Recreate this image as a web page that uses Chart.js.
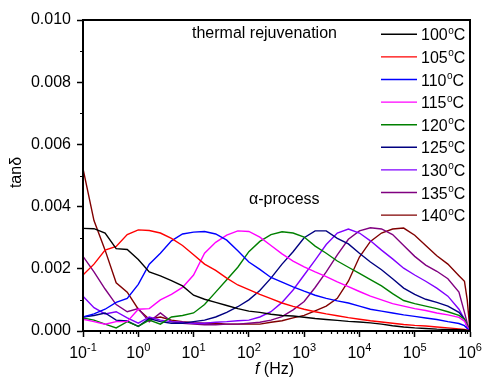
<!DOCTYPE html>
<html>
<head>
<meta charset="utf-8">
<script src="https://cdn.jsdelivr.net/npm/chart.js@4"></script>
<style>
  body { margin: 0; background: #fff; overflow: hidden; }
</style>
</head>
<body>
<canvas id="chart" width="483" height="378"></canvas>
<script>
// frequency (Hz) and tan delta values (x 10^-3)
const freqs = [0.1, 0.158, 0.251, 0.398, 0.631, 1, 1.58, 2.51, 3.98, 6.31,
    10, 15.8, 25.1, 39.8, 63.1, 100, 158, 251, 398, 631,
    1000, 1580, 2510, 3980, 6310, 10000, 15800, 25100, 39800, 63100,
    100000, 158000, 251000, 398000, 631000, 794000, 891000, 1000000];

const temps = ['100', '105', '110', '115', '120', '125', '130', '135', '140'];
const colors = ['#000000', '#ff0000', '#0000ff', '#ff00ff', '#008000', '#000080', '#8000ff', '#800080', '#800000'];

const t100 = [3.30, 3.29, 3.15, 2.65, 2.62, 2.30, 1.90, 1.77, 1.62, 1.45, 1.15, 1.02, 0.92, 0.82, 0.72, 0.64, 0.60, 0.54, 0.50, 0.48, 0.44, 0.40, 0.37, 0.34, 0.31, 0.29, 0.26, 0.22, 0.17, 0.13, 0.10, 0.08, 0.06, 0.05, 0.04, 0.03, 0.02, 0];
const t105 = [1.80, 2.15, 2.60, 2.72, 3.10, 3.25, 3.23, 3.15, 2.98, 2.75, 2.45, 2.15, 1.95, 1.70, 1.48, 1.33, 1.18, 1.04, 0.90, 0.79, 0.70, 0.62, 0.55, 0.49, 0.43, 0.38, 0.33, 0.29, 0.25, 0.21, 0.18, 0.16, 0.13, 0.10, 0.07, 0.05, 0.03, 0];
const t110 = [0.45, 0.55, 0.70, 0.92, 1.05, 1.50, 2.15, 2.50, 2.90, 3.12, 3.18, 3.20, 3.12, 2.92, 2.58, 2.22, 1.98, 1.72, 1.57, 1.42, 1.28, 1.15, 1.05, 0.97, 0.90, 0.80, 0.70, 0.64, 0.58, 0.52, 0.47, 0.42, 0.37, 0.30, 0.24, 0.17, 0.08, 0];
const t115 = [0.38, 0.30, 0.22, 0.30, 0.30, 0.70, 0.72, 1.00, 1.18, 1.40, 1.80, 2.50, 2.85, 3.08, 3.22, 3.20, 3.02, 2.75, 2.48, 2.25, 2.06, 1.90, 1.75, 1.58, 1.43, 1.27, 1.12, 1.00, 0.88, 0.80, 0.72, 0.66, 0.58, 0.52, 0.44, 0.32, 0.14, 0];
const t120 = [0.42, 0.35, 0.22, 0.10, 0.30, 0.15, 0.35, 0.22, 0.45, 0.50, 0.58, 0.85, 1.25, 1.65, 2.05, 2.55, 2.88, 3.10, 3.19, 3.15, 3.02, 2.73, 2.50, 2.25, 2.05, 1.85, 1.65, 1.45, 1.20, 0.98, 0.88, 0.80, 0.72, 0.62, 0.50, 0.38, 0.18, 0];
const t125 = [0.45, 0.50, 0.58, 0.35, 0.32, 0.15, 0.40, 0.30, 0.25, 0.25, 0.30, 0.35, 0.45, 0.60, 0.78, 1.00, 1.30, 1.70, 2.15, 2.55, 3.00, 3.22, 3.22, 2.98, 2.80, 2.50, 2.22, 1.97, 1.68, 1.38, 1.18, 1.02, 0.92, 0.80, 0.60, 0.38, 0.15, 0];
const t130 = [1.12, 0.75, 0.55, 0.62, 0.42, 0.25, 0.45, 0.35, 0.30, 0.28, 0.25, 0.25, 0.28, 0.30, 0.33, 0.35, 0.45, 0.62, 0.92, 1.32, 1.80, 2.28, 2.78, 3.15, 3.28, 3.15, 2.90, 2.60, 2.32, 2.02, 1.80, 1.60, 1.38, 1.12, 0.70, 0.38, 0.15, 0];
const t135 = [2.40, 1.90, 1.35, 0.85, 0.62, 0.72, 0.30, 0.58, 0.30, 0.25, 0.22, 0.20, 0.20, 0.22, 0.22, 0.25, 0.28, 0.35, 0.46, 0.68, 0.95, 1.40, 1.90, 2.45, 2.95, 3.22, 3.32, 3.28, 3.10, 2.75, 2.40, 2.12, 1.92, 1.68, 1.25, 0.60, 0.25, 0];
const t140 = [5.22, 3.55, 2.60, 1.55, 1.25, 0.70, 0.38, 0.45, 0.35, 0.30, 0.27, 0.25, 0.25, 0.22, 0.22, 0.22, 0.22, 0.28, 0.33, 0.42, 0.50, 0.65, 0.80, 1.05, 1.60, 2.38, 2.88, 3.15, 3.28, 3.31, 3.08, 2.75, 2.42, 2.15, 1.78, 1.60, 1.00, 0];

const series = [t100, t105, t110, t115, t120, t125, t130, t135, t140];
const decades = [0.1, 1, 10, 100, 1000, 10000, 100000, 1000000];
const yMinor = [0.001, 0.003, 0.005, 0.007, 0.009];

const FONT = '"Liberation Sans", Arial, sans-serif';
Chart.defaults.font.family = FONT;
Chart.defaults.color = '#000';

const datasets = series.map((vals, i) => ({
    label: temps[i] + '°C',
    data: vals.map((v, j) => ({ x: freqs[j], y: v / 1000 })),
    borderColor: colors[i],
    borderWidth: 1.4,
    pointRadius: 0,
    tension: 0,
    fill: false
}));

// frame, minor ticks, superscript labels, titles, notes and legend
const decorations = {
    id: 'decorations',
    afterDraw(chart) {
        const ctx = chart.ctx;
        const a = chart.chartArea;
        const xs = chart.scales.x;
        const ys = chart.scales.y;
        ctx.save();

        ctx.strokeStyle = '#000';
        ctx.lineWidth = 2;
        ctx.strokeRect(a.left, a.top, a.right - a.left, a.bottom - a.top);

        // minor ticks
        ctx.lineWidth = 1.2;
        ctx.beginPath();
        yMinor.forEach(v => {
            const y = Math.round(ys.getPixelForValue(v)) + 0.5;
            ctx.moveTo(a.left - 3, y);
            ctx.lineTo(a.left, y);
        });
        decades.slice(0, -1).forEach(d => {
            for (let k = 2; k <= 9; k++) {
                const x = Math.round(xs.getPixelForValue(k * d)) + 0.5;
                ctx.moveTo(x, a.bottom);
                ctx.lineTo(x, a.bottom + 3);
            }
        });
        ctx.stroke();

        // x tick labels 10^n
        ctx.fillStyle = '#000';
        ctx.textBaseline = 'alphabetic';
        ctx.textAlign = 'left';
        decades.forEach(d => {
            const e = String(Math.round(Math.log10(d))).replace('-', '-');
            ctx.font = '16px ' + FONT;
            const wb = ctx.measureText('10').width;
            ctx.font = '11px ' + FONT;
            const we = ctx.measureText(e).width;
            const x0 = xs.getPixelForValue(d) - (wb + we) / 2;
            ctx.font = '16px ' + FONT;
            ctx.fillText('10', x0, 358);
            ctx.font = '11px ' + FONT;
            ctx.fillText(e, x0 + wb, 351);
        });

        // axis titles
        ctx.font = 'italic 16px ' + FONT;
        const wf = ctx.measureText('f').width;
        ctx.font = '16px ' + FONT;
        const wh = ctx.measureText(' (Hz)').width;
        const tx = (a.left + a.right) / 2 - (wf + wh) / 2 - 2;
        ctx.font = 'italic 16px ' + FONT;
        ctx.fillText('f', tx, 374);
        ctx.font = '16px ' + FONT;
        ctx.fillText(' (Hz)', tx + wf, 374);

        ctx.save();
        ctx.translate(17, (a.top + a.bottom) / 2 - 3);
        ctx.rotate(-Math.PI / 2);
        ctx.textAlign = 'center';
        ctx.textBaseline = 'middle';
        ctx.fillText('tanδ', 0, 0);
        ctx.restore();

        // notes
        ctx.font = '16px ' + FONT;
        ctx.fillText('thermal rejuvenation', 192, 38);
        ctx.fillText('α-process', 249, 204);

        // legend
        temps.forEach((t, i) => {
            const y = 34.3 + i * 22.6;
            ctx.strokeStyle = colors[i];
            ctx.lineWidth = 1.4;
            ctx.beginPath();
            ctx.moveTo(381, y);
            ctx.lineTo(417, y);
            ctx.stroke();
            let x = 421;
            ctx.font = '16px ' + FONT;
            ctx.fillText(t, x, y + 6);
            x += ctx.measureText(t).width;
            ctx.font = '10px ' + FONT;
            ctx.fillText('o', x + 0.5, y - 0.5);
            x += ctx.measureText('o').width + 0.5;
            ctx.font = '16px ' + FONT;
            ctx.fillText('C', x, y + 6);
        });

        ctx.restore();
    }
};

new Chart(document.getElementById('chart'), {
    type: 'line',
    data: { datasets: datasets },
    options: {
        responsive: false,
        animation: false,
        layout: { padding: { top: 20, right: 13, left: 0, bottom: 0 } },
        plugins: {
            legend: { display: false },
            tooltip: { enabled: false }
        },
        scales: {
            x: {
                type: 'logarithmic',
                min: 0.1,
                max: 1000000,
                afterBuildTicks: s => { s.ticks = decades.map(v => ({ value: v })); },
                afterFit: s => { s.height = 47; },
                ticks: { callback: () => '', autoSkip: false, maxRotation: 0 },
                grid: { drawOnChartArea: false, tickLength: 6, tickColor: '#000', tickWidth: 1.5 },
                border: { color: '#000', width: 2 }
            },
            y: {
                min: 0,
                max: 0.010,
                afterFit: s => { s.width = 83; },
                ticks: {
                    stepSize: 0.002,
                    callback: v => v.toFixed(3),
                    font: { size: 16 },
                    color: '#000',
                    padding: 6
                },
                grid: { drawOnChartArea: false, tickLength: 6, tickColor: '#000', tickWidth: 1.5 },
                border: { color: '#000', width: 2 }
            }
        }
    },
    plugins: [decorations]
});
</script>
</body>
</html>
